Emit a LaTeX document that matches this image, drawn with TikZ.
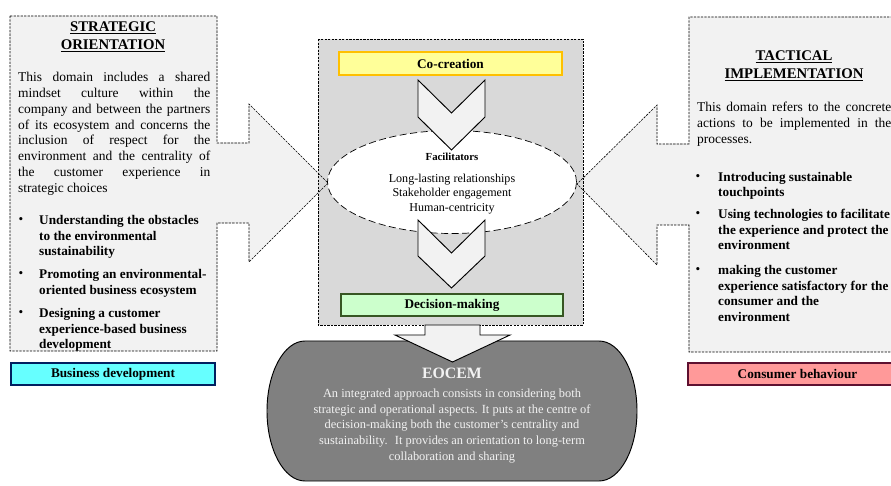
\documentclass[tikz,border=0pt]{standalone}
\usepackage{fontspec}
\setmainfont{Liberation Serif}
\usetikzlibrary{shapes.geometric}

\definecolor{panelgray}{HTML}{F2F2F2}
\definecolor{boxgray}{HTML}{D9D9D9}
\definecolor{eocemgray}{HTML}{808080}
\definecolor{cocreafill}{HTML}{FFFF99}
\definecolor{cocreaedge}{HTML}{FFC000}
\definecolor{decisfill}{HTML}{CCFFCC}
\definecolor{decisedge}{HTML}{375623}
\definecolor{busfill}{HTML}{66FFFF}
\definecolor{busedge}{HTML}{002060}
\definecolor{consfill}{HTML}{FF9999}
\definecolor{consedge}{HTML}{5E1030}

\tikzset{
	finedash/.style={dash pattern=on 2pt off 1pt, line width=0.5pt},
	chevron/.style={fill=panelgray, draw=black, line width=0.8pt, line join=miter},
	colbox/.style={draw, line width=1.8pt, inner sep=0, font=\bfseries\fontsize{11.3}{13}\selectfont},
	titletext/.style={align=center, inner sep=0, font=\bfseries\fontsize{12.6}{15.5}\selectfont},
	bodytext/.style={anchor=north west, inner sep=0, align=justify, font=\fontsize{11.5}{13.5}\selectfont},
	bullettext/.style={anchor=north west, inner sep=0, align=left, font=\bfseries\fontsize{11.3}{13.3}\selectfont},
	bulletmark/.style={inner sep=0, font=\fontsize{11.3}{13.3}\selectfont},
}

\begin{document}
\begin{tikzpicture}[x=0.03cm,y=-0.03cm]
	\clip (0,0) rectangle (891,486);
	\fill[white] (0,0) rectangle (891,486);

	% the two side panels (fill only, outline comes later)
	\fill[panelgray] (10,16) -- (217,16) -- (217,143) -- (249,143) -- (249,104) -- (328,183)
		-- (249,262) -- (249,223) -- (217,223) -- (217,351) -- (10,351) -- cycle;
	\fill[panelgray] (900,17) -- (689,17) -- (689,144) -- (657,144) -- (657,105) -- (577,184)
		-- (657,265) -- (657,225) -- (689,225) -- (689,352) -- (900,352) -- cycle;

	% centre box
	\draw[finedash, fill=boxgray] (318,39) rectangle (583,325);

	\draw[finedash] (10,16) -- (217,16) -- (217,143) -- (249,143) -- (249,104) -- (328,183)
		-- (249,262) -- (249,223) -- (217,223) -- (217,351) -- (10,351) -- cycle;
	\draw[finedash] (900,17) -- (689,17) -- (689,144) -- (657,144) -- (657,105) -- (577,184)
		-- (657,265) -- (657,225) -- (689,225) -- (689,352) -- (900,352);

	% facilitators
	\node[ellipse, draw, fill=white, dash pattern=on 6pt off 3pt, line width=0.6pt,
		minimum width=7.47cm, minimum height=3.09cm] (facil) at (452,182) {};
	\draw[chevron] (418,80) -- (451.5,113) -- (485,80) -- (485,117) -- (451.5,150) -- (418,117) -- cycle;
	\draw[chevron] (418,220) -- (451.5,253) -- (485,220) -- (485,256) -- (451.5,288) -- (418,256) -- cycle;
	\node[font=\bfseries\fontsize{9.2}{11}\selectfont, inner sep=0] (faciltitle) at (452,157) {Facilitators};
	\node[align=center, inner sep=0, font=\fontsize{10.3}{12.4}\selectfont] (faciltext) at (452,194)
		{Long-lasting relationships\\Stakeholder engagement\\Human-centricity};

	\node[colbox, draw=cocreaedge, fill=cocreafill, minimum width=6.69cm, minimum height=0.69cm] (cocreation) at (450.5,63.5) {Co-creation};
	\node[colbox, draw=decisedge, fill=decisfill, minimum width=6.66cm, minimum height=0.66cm] (decision) at (452,305) {Decision-making};

	% EOCEM
	\draw[fill=eocemgray, line width=0.8pt] (305,341) -- (599,341)
		arc[start angle=-90, end angle=90, x radius=38, y radius=70] -- (305,481)
		arc[start angle=90, end angle=270, x radius=38, y radius=70] -- cycle;
	\draw[fill=panelgray, line width=0.8pt, line join=miter] (425,325) -- (480,325) -- (480,335) -- (510,335)
		-- (452.5,362) -- (395,335) -- (425,335) -- cycle;
	\node[text=panelgray, inner sep=0, font=\bfseries\fontsize{13.5}{16}\selectfont] (eocemtitle) at (452,373) {EOCEM};
	\node[text=panelgray, align=center, inner sep=0, font=\fontsize{10.6}{13.3}\selectfont] (eocemtext) at (452,426)
		{An integrated approach consists in considering both\\
		strategic and operational aspects. It puts at the centre of\\
		decision-making both the customer’s centrality and\\
		sustainability.~ It provides an orientation to long-term\\
		collaboration and sharing};

	% left panel
	\node[titletext] (stitle) at (113,36.5) {\underline{STRATEGIC}\\\underline{ORIENTATION}};
	\node[bodytext, text width=5.76cm] (sbody) at (18,72)
		{This domain includes a shared\linebreak mindset culture within the\linebreak
		company and between the partners\linebreak of its ecosystem and concerns the\linebreak
		inclusion of respect for the\linebreak environment and the centrality of\linebreak
		the customer experience in\linebreak strategic choices};
	\node[bulletmark] (sbul1) at (21,221) {\textbullet};
	\node[bullettext] (sitem1) at (39,215) {Understanding the obstacles\\to the environmental\\sustainability};
	\node[bulletmark] (sbul2) at (21,275) {\textbullet};
	\node[bullettext] (sitem2) at (39,269) {Promoting an environmental-\\oriented business ecosystem};
	\node[bulletmark] (sbul3) at (21,314) {\textbullet};
	\node[bullettext] (sitem3) at (39,308) {Designing a customer\\experience-based business\\development};
	\node[colbox, draw=busedge, fill=busfill, minimum width=6.12cm, minimum height=0.66cm] (busdev) at (113,374) {Business development};

	% right panel
	\node[titletext] (ttitle) at (794,65.5) {\underline{TACTICAL}\\\underline{IMPLEMENTATION}};
	\node[bodytext, text width=5.82cm] (tbody) at (697,102)
		{This domain refers to the concrete\linebreak actions to be implemented in the\linebreak processes.};
	\node[bulletmark] (tbul1) at (698,178) {\textbullet};
	\node[bullettext] (titem1) at (718,172) {Introducing sustainable\\touchpoints};
	\node[bulletmark] (tbul2) at (698,215) {\textbullet};
	\node[bullettext] (titem2) at (718,209) {Using technologies to facilitate\\the experience and protect the\\environment};
	\node[bulletmark] (tbul3) at (698,271) {\textbullet};
	\node[bullettext] (titem3) at (718,265) {making the customer\\experience satisfactory for the\\consumer and the\\environment};
	\node[colbox, draw=consedge, fill=consfill, minimum width=6.57cm, minimum height=0.66cm] (consbeh) at (797.5,374) {Consumer behaviour};
\end{tikzpicture}
\end{document}
